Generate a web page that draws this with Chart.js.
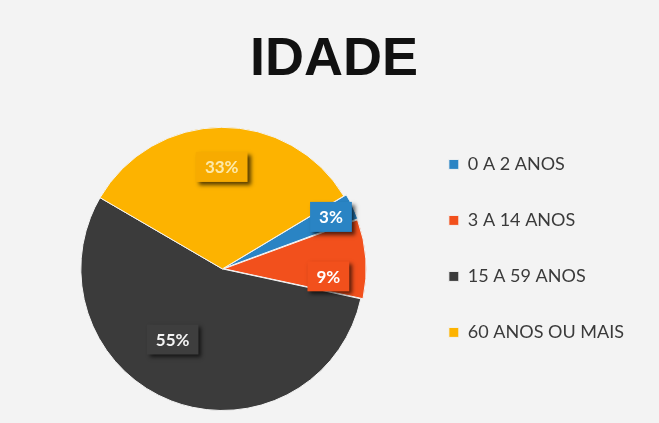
<!DOCTYPE html>
<html>
<head>
<meta charset="utf-8">
<script src="https://cdn.jsdelivr.net/npm/chart.js@4.4.1/dist/chart.umd.min.js"></script>
<style>
  html, body { margin: 0; padding: 0; background: #f3f3f3; }
  #wrap { width: 659px; height: 423px; position: relative; }
</style>
</head>
<body>
<div id="wrap"><canvas id="pie"></canvas></div>
<script>
// data
const categories = ["0 A 2 ANOS", "3 A 14 ANOS", "15 A 59 ANOS", "60 ANOS OU MAIS"];
const shares = [3, 9, 55, 33];
const shareLabels = ["3%", "9%", "55%", "33%"];

const sliceColors = ["#2a84c4", "#f2501c", "#3b3b3b", "#fdb300"];
const boxColors = ["#2a84c4", "#f2501c", "#3e3e3e", "#f7ab00"];
const textColors = ["#ffffff", "#ffffff", "#f4f4f4", "#fde9a8"];

// draws the boxed percentage labels (Excel style, with drop shadow)
const sliceLabels = {
  id: "sliceLabels",
  afterDatasetsDraw(chart, args, opts) {
    const ctx = chart.ctx;
    const meta = chart.getDatasetMeta(0);
    ctx.save();
    ctx.font = "bold 17px Lato, 'Open Sans', sans-serif";
    ctx.textAlign = "center";
    ctx.textBaseline = "middle";
    meta.data.forEach((arc, i) => {
      const p = arc.getProps(["x", "y", "startAngle", "endAngle", "outerRadius"], true);
      const mid = (p.startAngle + p.endAngle) / 2 + (opts.nudge[i] * Math.PI) / 180;
      const r = p.outerRadius * opts.radial[i];
      const cx = p.x + Math.cos(mid) * r;
      const cy = p.y + Math.sin(mid) * r;
      const txt = shareLabels[i];
      const w = ctx.measureText(txt).width + 18;
      const h = 30;
      ctx.save();
      ctx.shadowColor = "rgba(0,0,0,0.65)";
      ctx.shadowBlur = 4;
      ctx.shadowOffsetX = 3;
      ctx.shadowOffsetY = 3;
      ctx.fillStyle = boxColors[i];
      ctx.fillRect(cx - w / 2, cy - h / 2, w, h);
      ctx.restore();
      ctx.fillStyle = textColors[i];
      ctx.fillText(txt, cx, cy + 1);
    });
    ctx.restore();
  },
};

new Chart(document.getElementById("pie"), {
  type: "pie",
  data: {
    labels: categories,
    datasets: [
      {
        data: shares,
        backgroundColor: sliceColors,
        borderColor: "#f3f3f3",
        borderWidth: 1,
        offset: [6, 6, 0, 0],
      },
    ],
  },
  options: {
    responsive: true,
    maintainAspectRatio: false,
    animation: false,
    rotation: 59,
    layout: { padding: { left: 34, right: 25, top: 0, bottom: 9 } },
    plugins: {
      title: {
        display: true,
        text: "IDADE",
        color: "#111111",
        font: { family: "'Liberation Sans', Arial, sans-serif", size: 54, weight: "bold" },
        padding: { top: 28, bottom: 31 },
      },
      legend: {
        position: "right",
        align: "start",
        // empty title only used as a spacer to push the items down
        title: {
          display: true,
          text: " ",
          font: { size: 12 },
          padding: { top: 103, bottom: 0 },
        },
        labels: {
          boxWidth: 10,
          boxHeight: 10,
          padding: 38,
          color: "#3a3a3a",
          font: { family: "Lato, 'Open Sans', sans-serif", size: 18 },
        },
      },
      tooltip: { enabled: false },
      sliceLabels: {
        radial: [0.85, 0.75, 0.61, 0.72],
        nudge: [0, 8, 14, 0],
      },
    },
  },
  plugins: [sliceLabels],
});
</script>
</body>
</html>
